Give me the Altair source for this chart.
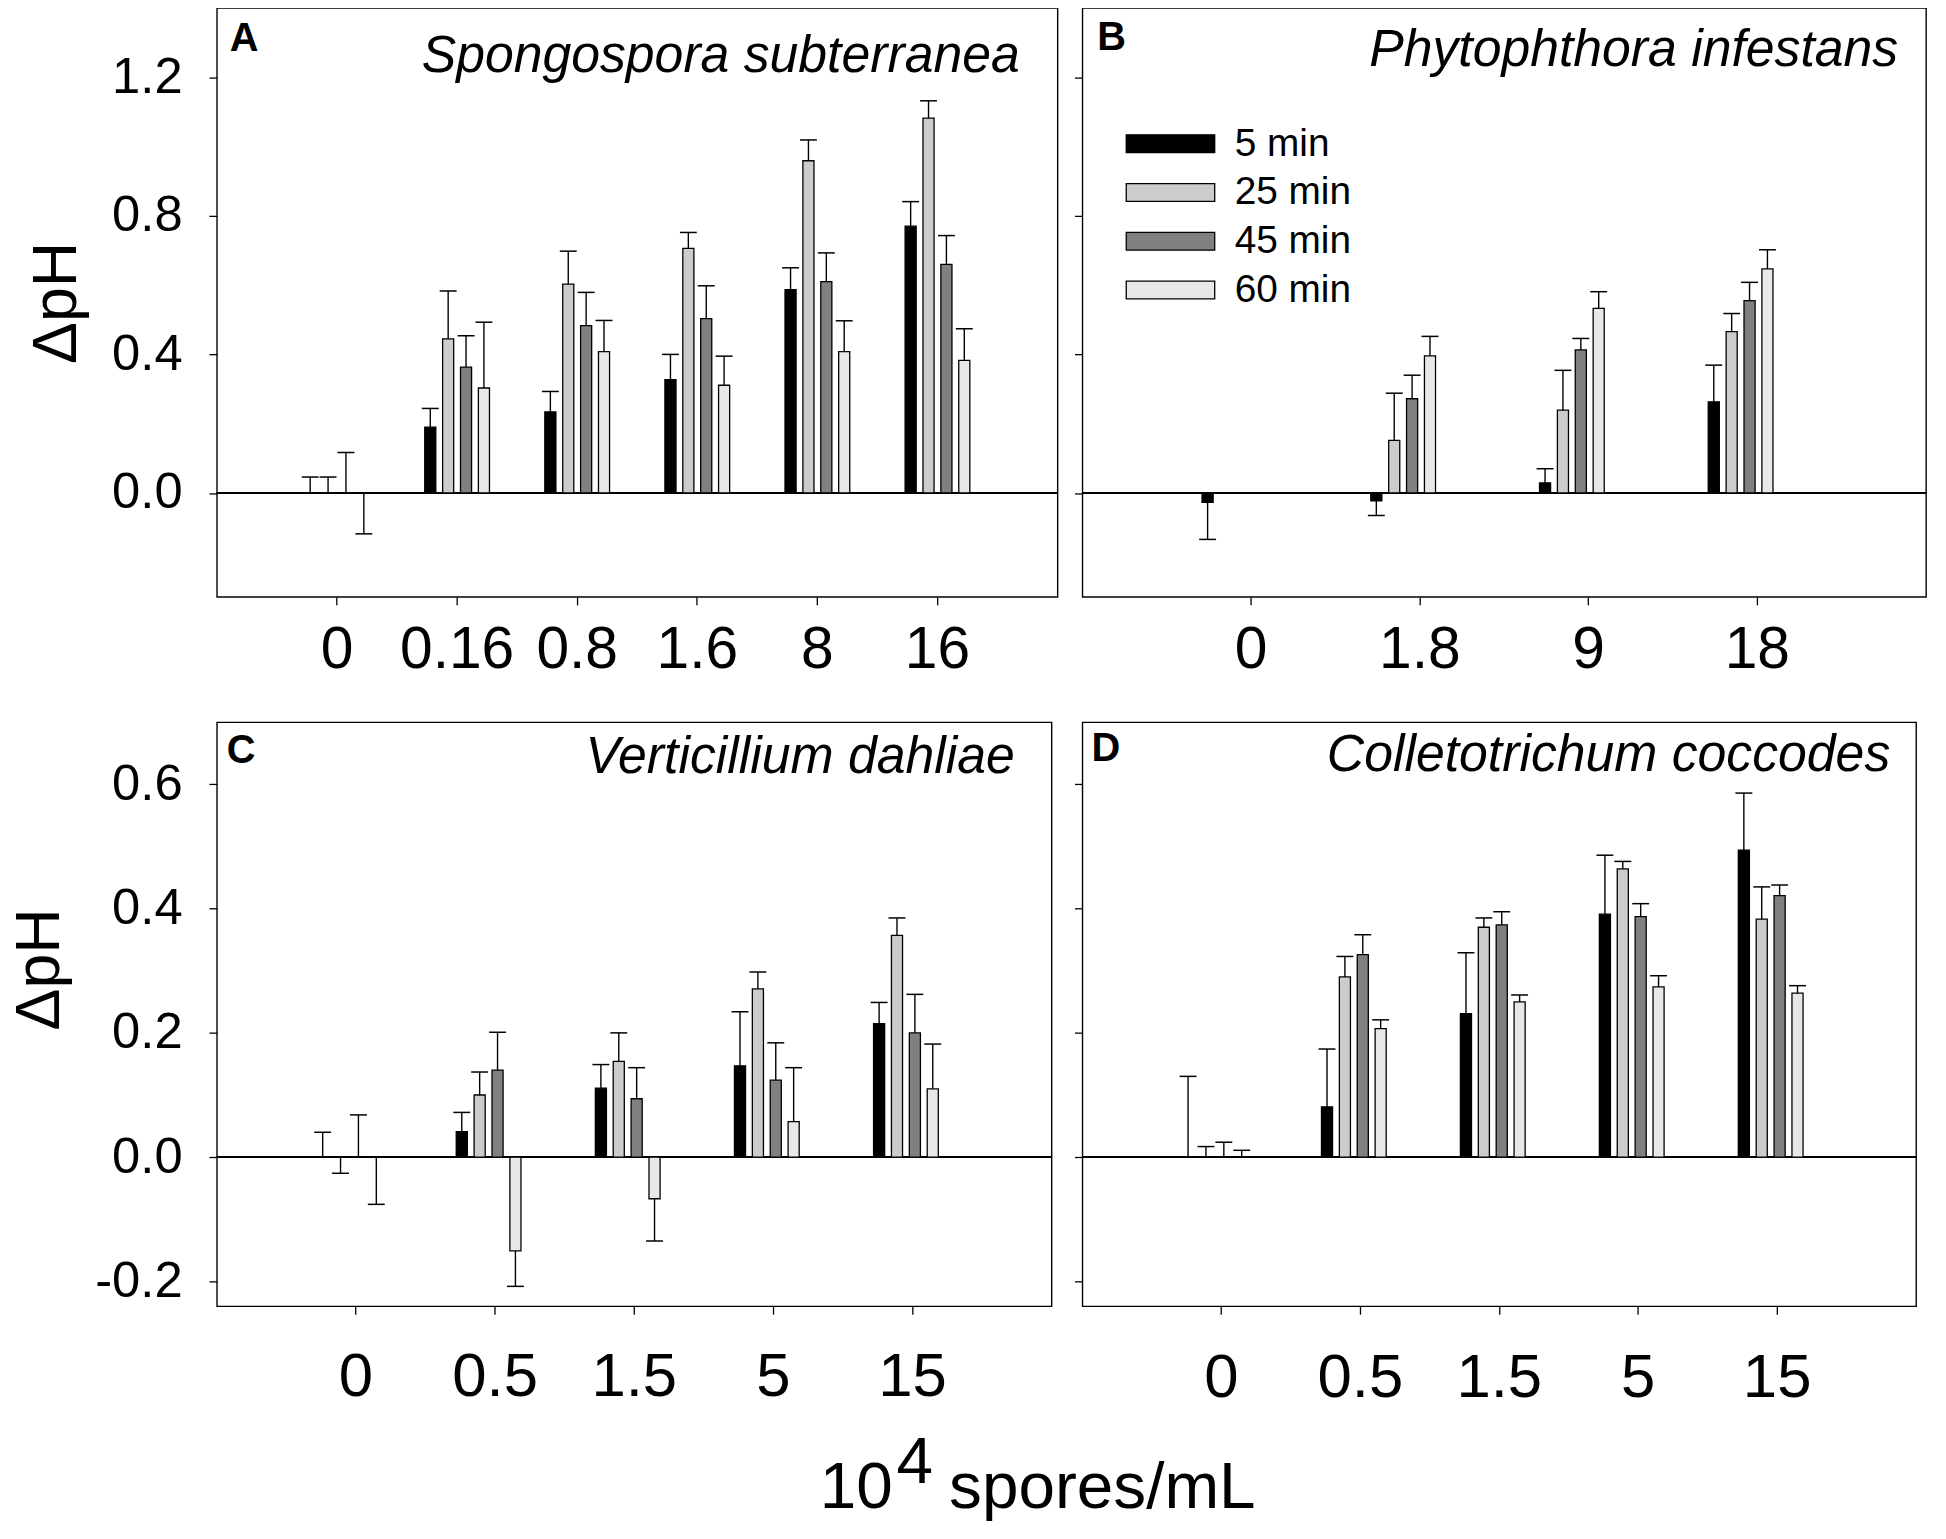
import altair as alt
import pandas as pd

TIMES = ["5 min", "25 min", "45 min", "60 min"]
COLORS = ["#000000", "#cccccc", "#808080", "#e8e8e8"]

# Panel A: Spongospora subterranea
A_CATS = ["0", "0.16", "0.8", "1.6", "8", "16"]
A_VALS = {
    "5 min": [0, 0.19, 0.234, 0.327, 0.587, 0.77],
    "25 min": [0, 0.445, 0.603, 0.706, 0.959, 1.082],
    "45 min": [0, 0.363, 0.483, 0.503, 0.61, 0.66],
    "60 min": [0, 0.303, 0.408, 0.311, 0.408, 0.383],
}
A_ERRS = {
    "5 min": [0.046, 0.054, 0.059, 0.073, 0.063, 0.071],
    "25 min": [0.046, 0.138, 0.095, 0.046, 0.06, 0.05],
    "45 min": [0.117, 0.091, 0.096, 0.095, 0.083, 0.083],
    "60 min": [-0.118, 0.19, 0.09, 0.084, 0.089, 0.091],
}

# Panel B: Phytophthora infestans
B_CATS = ["0", "1.8", "9", "18"]
B_VALS = {
    "5 min": [-0.027, -0.023, 0.029, 0.263],
    "25 min": [0, 0.152, 0.239, 0.466],
    "45 min": [0, 0.272, 0.413, 0.555],
    "60 min": [0, 0.396, 0.533, 0.647],
}
B_ERRS = {
    "5 min": [-0.107, -0.042, 0.041, 0.106],
    "25 min": [0, 0.136, 0.115, 0.052],
    "45 min": [0, 0.068, 0.033, 0.053],
    "60 min": [0, 0.056, 0.048, 0.055],
}

# Panel C: Verticillium dahliae
C_CATS = ["0", "0.5", "1.5", "5", "15"]
C_VALS = {
    "5 min": [0, 0.041, 0.111, 0.147, 0.215],
    "25 min": [0, 0.1, 0.154, 0.271, 0.357],
    "45 min": [0, 0.14, 0.094, 0.124, 0.2],
    "60 min": [0, -0.151, -0.067, 0.057, 0.110],
}
C_ERRS = {
    "5 min": [0.040, 0.031, 0.038, 0.087, 0.034],
    "25 min": [-0.026, 0.037, 0.046, 0.027, 0.028],
    "45 min": [0.068, 0.061, 0.05, 0.06, 0.062],
    "60 min": [-0.076, -0.057, -0.068, 0.087, 0.072],
}

# Panel D: Colletotrichum coccodes
D_CATS = ["0", "0.5", "1.5", "5", "15"]
D_VALS = {
    "5 min": [0, 0.081, 0.231, 0.391, 0.494],
    "25 min": [0, 0.29, 0.37, 0.464, 0.383],
    "45 min": [0, 0.326, 0.374, 0.387, 0.421],
    "60 min": [0, 0.207, 0.25, 0.274, 0.264],
}
D_ERRS = {
    "5 min": [0.130, 0.093, 0.098, 0.095, 0.092],
    "25 min": [0.017, 0.033, 0.015, 0.012, 0.052],
    "45 min": [0.024, 0.032, 0.021, 0.021, 0.017],
    "60 min": [0.011, 0.014, 0.011, 0.018, 0.012],
}

LETTERS = ["A", "B", "C", "D"]
SPECIES = ["Spongospora subterranea", "Phytophthora infestans",
           "Verticillium dahliae", "Colletotrichum coccodes"]
Y_TITLE = "ΔpH"
X_TITLE_PARTS = ["10", "4", "spores/mL"]

FONT = "Liberation Sans"
LABEL_EXPR = ("datum.value < 0 ? '-' + format(-datum.value, '.1f') "
              ": format(datum.value, '.1f')")


def make_df(cats, vals, errs):
    rows = []
    for t in TIMES:
        for c, v, e in zip(cats, vals[t], errs[t]):
            rows.append({"cat": c, "time": t, "value": v, "err": e, "end": v + e})
    return pd.DataFrame(rows)


def panel(cats, vals, errs, ydomain, yticks, width, height, idx,
          letter_pos, species_pos, show_ylabels, xlab_size, xlab_pad,
          legend=None, title_y=None, extra_layers=()):
    df = make_df(cats, vals, errs)
    base = alt.Chart(df)

    xenc = alt.X("cat:N", sort=cats,
                 scale=alt.Scale(paddingInner=0.312, paddingOuter=0.656),
                 axis=alt.Axis(title=None, labelAngle=0, labelFontSize=xlab_size,
                               labelPadding=xlab_pad, tickSize=8, tickWidth=1.3,
                               tickColor="black", domain=False, labelColor="black",
                               labelFont=FONT))
    xoff = alt.XOffset("time:N", sort=TIMES,
                       scale=alt.Scale(paddingInner=0.38, paddingOuter=0.5))
    yscale = alt.Scale(domain=ydomain, nice=False, zero=False)
    axis_kw = dict(values=yticks, labelExpr=LABEL_EXPR, labels=show_ylabels,
                   labelFontSize=51, labelPadding=27, tickSize=8, tickWidth=1.3,
                   tickColor="black", domain=False, grid=False, labelColor="black",
                   labelFont=FONT)
    if show_ylabels:
        axis_kw.update(title=Y_TITLE, titleFontSize=63, titleFontWeight="normal",
                       titlePadding=23, titleFont=FONT, titleColor="black")
        if title_y is not None:
            axis_kw.update(titleY=title_y)
    else:
        axis_kw.update(title=None)
    yaxis = alt.Axis(**axis_kw)

    color = alt.Color("time:N", sort=TIMES,
                      scale=alt.Scale(domain=TIMES, range=COLORS),
                      legend=legend)

    bars = base.mark_bar(stroke="black", strokeWidth=1.3).encode(
        x=xenc, xOffset=xoff,
        y=alt.Y("value:Q", scale=yscale, axis=yaxis),
        color=color,
    )
    err_rules = base.transform_filter("datum.err != 0").mark_rule(
        color="black", strokeWidth=1.4).encode(
        x=xenc, xOffset=xoff,
        y=alt.Y("value:Q", scale=yscale, axis=yaxis),
        y2="end:Q",
    )
    caps = base.transform_filter("datum.err != 0").mark_tick(
        color="black", thickness=1.5, size=17, opacity=1).encode(
        x=xenc, xOffset=xoff,
        y=alt.Y("end:Q", scale=yscale, axis=yaxis),
    )
    zero = base.mark_rule(color="black", strokeWidth=1.3).encode(
        y=alt.YDatum(0, scale=yscale, axis=yaxis),
    )
    letter = alt.Chart(pd.DataFrame({"t": [LETTERS[idx]]})).mark_text(
        align="left", baseline="alphabetic", fontSize=40, fontWeight="bold",
        font=FONT, color="black").encode(
        x=alt.value(letter_pos[0]), y=alt.value(letter_pos[1]), text="t:N")
    species = alt.Chart(pd.DataFrame({"t": [SPECIES[idx]]})).mark_text(
        align="right", baseline="alphabetic", fontSize=52, fontStyle="italic",
        font=FONT, color="black").encode(
        x=alt.value(width - species_pos[0]), y=alt.value(species_pos[1]), text="t:N")

    layers = [zero, bars, err_rules, caps, letter, species] + list(extra_layers)
    return alt.layer(*layers).properties(width=width, height=height)


legend_b = alt.Legend(
    orient="none", legendX=69, legendY=117, title=None, padding=0,
    symbolType="M-4.94,-1H4.94V1H-4.94Z", symbolSize=324,
    symbolStrokeColor="black", symbolStrokeWidth=1.3, symbolOpacity=1,
    labelFontSize=39, labelFont=FONT, labelColor="black",
    labelOffset=45, rowPadding=9,
)

# x-axis title (drawn in panel C's coordinates)
xt1 = alt.Chart(pd.DataFrame({"t": [X_TITLE_PARTS[0]]})).mark_text(
    align="left", baseline="alphabetic", fontSize=66, font=FONT, color="black").encode(
    x=alt.value(606), y=alt.value(790), text="t:N")
xt2 = alt.Chart(pd.DataFrame({"t": [X_TITLE_PARTS[1]]})).mark_text(
    align="left", baseline="alphabetic", fontSize=66, font=FONT, color="black").encode(
    x=alt.value(683), y=alt.value(765), text="t:N")
xt3 = alt.Chart(pd.DataFrame({"t": [X_TITLE_PARTS[2]]})).mark_text(
    align="left", baseline="alphabetic", fontSize=66, font=FONT, color="black").encode(
    x=alt.value(736), y=alt.value(790), text="t:N")

pA = panel(A_CATS, A_VALS, A_ERRS, [-0.3, 1.4], [0, 0.4, 0.8, 1.2], 845, 592, 0,
           (13, 43), (38, 64), True, 59, 16)
pB = panel(B_CATS, B_VALS, B_ERRS, [-0.3, 1.4], [0, 0.4, 0.8, 1.2], 848, 592, 1,
           (15, 42), (28, 58), False, 59, 16, legend=legend_b)
pC = panel(C_CATS, C_VALS, C_ERRS, [-0.24, 0.7], [-0.2, 0, 0.2, 0.4, 0.6], 839, 587, 2,
           (10, 41), (37, 51), True, 62, 33, title_y=248,
           extra_layers=(xt1, xt2, xt3))
pD = panel(D_CATS, D_VALS, D_ERRS, [-0.24, 0.7], [-0.2, 0, 0.2, 0.4, 0.6], 838, 587, 3,
           (9, 39), (26, 49), False, 62, 34)

chart = alt.concat(
    pA, pB, pC, pD, columns=2, bounds="flush",
    spacing={"row": 126, "column": 25},
).resolve_scale(
    color="independent"
).properties(
    padding={"left": 0, "top": -5, "right": 10, "bottom": 10}
).configure(font=FONT).configure_view(
    stroke="black", strokeWidth=1.4
).configure_axis(grid=False)

chart.save("out.html", embed_options={"renderer": "svg", "actions": False})
